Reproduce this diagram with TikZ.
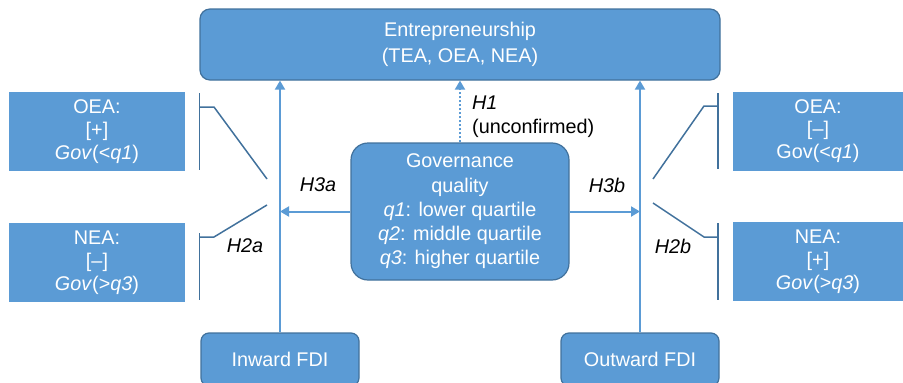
\documentclass[tikz,border=0pt]{standalone}
\usepackage{fontspec}
\setmainfont{Liberation Sans}
\usetikzlibrary{arrows.meta}

\definecolor{boxblue}{HTML}{5B9BD5}
\definecolor{edgeblue}{HTML}{41719C}

\begin{document}
\begin{tikzpicture}[x=1pt,y=-1pt,
						font=\fontsize{19.8}{24.3}\selectfont,
						box/.style={draw=edgeblue,line width=1.2pt,
						fill=boxblue,text=white,align=center,inner sep=0pt},
						sidebox/.style={fill=boxblue,text=white,align=center,
						inner sep=0pt,minimum height=79pt},
						link/.style={draw=boxblue,line width=2pt,
						-{Triangle[length=9pt,width=10pt]}},
						bracket/.style={draw=edgeblue,line width=1.5pt},
						hyp/.style={inner sep=0pt,font=\fontsize{19.8}{24.3}\selectfont\itshape}]

		\clip (0,0) rectangle (903,383);

		\node [box,rounded corners=10pt,minimum width=520pt,minimum height=71pt]
			(entre) at (460,44.5) {Entrepreneurship\\[2pt](TEA, OEA, NEA)};
		\node [box,rounded corners=17pt,minimum width=218pt,minimum height=137pt]
			(gov) at (460,211.5) {Governance\\quality\\\textit{q1}: lower quartile\\
			\textit{q2}: middle quartile\\\textit{q3}: higher quartile};
		\node [box,rounded corners=8pt,minimum width=158pt,minimum height=53pt]
			(inward) at (280,359.5) {Inward FDI};
		\node [box,rounded corners=8pt,minimum width=158pt,minimum height=53pt]
			(outward) at (640,359.5) {Outward FDI};

		\node [sidebox,minimum width=176pt] (oeaL) at (97,131.5)
			{OEA:\\[-1.5pt][+]\\[-1.5pt]\textit{Gov}(<\textit{q1})};
		\node [sidebox,minimum width=176pt] (neaL) at (97,262.5)
			{NEA:\\[-1.5pt][--]\\[-1.5pt]\textit{Gov}(>\textit{q3})};
		\node [sidebox,minimum width=170pt] (oeaR) at (818,131)
			{OEA:\\[-1.5pt][--]\\[-1.5pt]Gov(<\textit{q1})};
		\node [sidebox,minimum width=170pt] (neaR) at (818,261.5)
			{NEA:\\[-1.5pt][+]\\[-1.5pt]\textit{Gov}(>\textit{q3})};

		\draw [link] (inward) -- (inward |- entre.south);
		\draw [link] (outward) -- (outward |- entre.south);
		\draw [link,dash pattern=on 2pt off 2pt] (gov) -- (entre);
		\draw [link] (gov) -- (gov -| inward);
		\draw [link] (gov) -- (gov -| outward);

		\node [hyp,anchor=west] (h1) at (472,103) {H1};
		\node [inner sep=0pt,anchor=west] (unconf) at (472,128) {(unconfirmed)};
		\node [hyp] (h3a) at (318,185) {H3a};
		\node [hyp] (h3b) at (607,185) {H3b};
		\node [hyp] (h2a) at (245,246) {H2a};
		\node [hyp] (h2b) at (673,246) {H2b};

		\coordinate (tipLo) at (267,179);
		\coordinate (tipLn) at (267,205);
		\coordinate (tipRo) at (653,179);
		\coordinate (tipRn) at (653,203);

		\draw [bracket] (199.5,93) -- (199.5,170);
		\draw [bracket] (199.5,107) -- ++(14.5,0) -- (tipLo);
		\draw [bracket] (199.5,233) -- (199.5,300);
		\draw [bracket] (199.5,237) -- ++(14.5,0) -- (tipLn);

		\draw [bracket] (718,93) -- (718,169);
		\draw [bracket] (718,106) -- ++(-14,0) -- (tipRo);
		\draw [bracket] (718,223) -- (718,300);
		\draw [bracket] (718,237) -- ++(-14,0) -- (tipRn);

	\end{tikzpicture}
\end{document}
